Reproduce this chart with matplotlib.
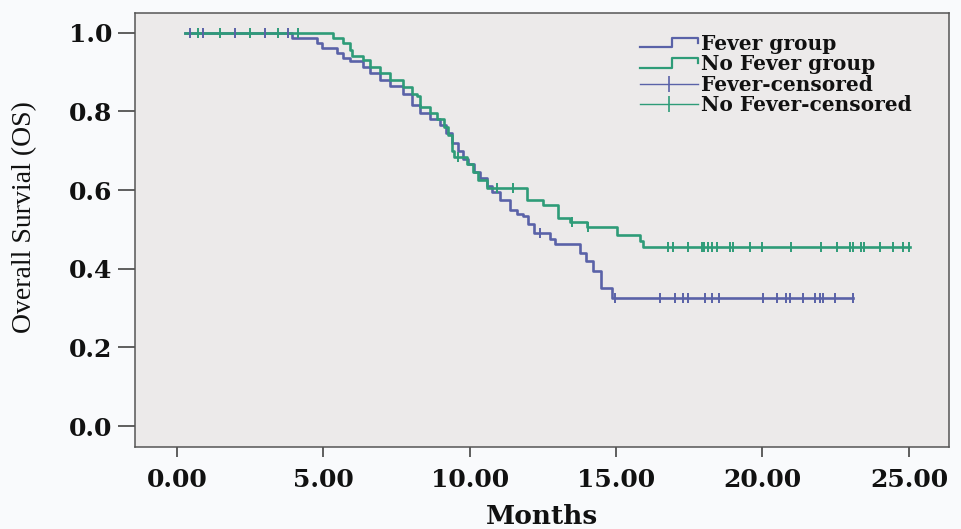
import numpy as np
import matplotlib
matplotlib.use("Agg")
import matplotlib.pyplot as plt
from matplotlib.lines import Line2D
from matplotlib.legend_handler import HandlerBase

# ---------------- data ----------------
fever_times = [0.27, 3.93, 4.78, 4.95, 5.46, 5.67, 5.91, 6.35, 6.59, 6.93, 7.27, 7.72,
               8.03, 8.30, 8.64, 8.98, 9.20, 9.40, 9.60, 9.77, 9.94, 10.14, 10.35,
               10.59, 10.76, 11.03, 11.37, 11.60, 11.82, 12.00, 12.20, 12.74, 12.90,
               13.76, 13.97, 14.20, 14.50, 14.85]
fever_surv = [1.0, 0.987, 0.974, 0.961, 0.948, 0.936, 0.927, 0.914, 0.897, 0.880, 0.864,
              0.843, 0.817, 0.797, 0.78, 0.765, 0.745, 0.72, 0.70, 0.68, 0.665, 0.645,
              0.63, 0.61, 0.595, 0.575, 0.55, 0.54, 0.533, 0.515, 0.492, 0.475, 0.462,
              0.44, 0.42, 0.395, 0.35, 0.325]
fever_end = 23.1
fever_censor = [0.44, 0.9, 1.98, 3.01, 3.8, 12.4, 14.96, 16.5, 17.0, 17.3, 17.46, 18.03,
                18.26, 18.52, 20.02, 20.48, 20.82, 20.93, 21.39, 21.79, 21.96, 22.07,
                22.47, 23.1]

nofever_times = [0.27, 5.33, 5.67, 5.91, 5.98, 6.35, 6.59, 6.93, 7.27, 7.72, 8.03, 8.20,
                 8.30, 8.64, 8.88, 9.12, 9.25, 9.40, 9.45, 9.90, 10.10, 10.30, 10.60,
                 11.95, 12.50, 13.00, 13.42, 14.00, 15.03, 15.80, 15.93]
nofever_surv = [1.0, 0.987, 0.974, 0.955, 0.94, 0.93, 0.914, 0.898, 0.88, 0.863, 0.845,
                0.838, 0.812, 0.795, 0.78, 0.76, 0.74, 0.70, 0.683, 0.665, 0.645, 0.625,
                0.604, 0.576, 0.563, 0.53, 0.518, 0.505, 0.487, 0.47, 0.456]
nofever_end = 25.03
nofever_censor = [0.73, 1.47, 2.49, 3.46, 4.14, 9.6, 10.95, 11.47, 13.5, 14.05, 16.78,
                  16.95, 17.46, 17.92, 18.0, 18.15, 18.26, 18.43, 18.89, 18.98, 19.57,
                  19.97, 20.99, 22.01, 22.53, 22.99, 23.08, 23.38, 23.46, 24.01, 24.47,
                  24.81, 25.0]

x_ticks = [0, 5, 10, 15, 20, 25]
x_ticklabels = ["0.00", "5.00", "10.00", "15.00", "20.00", "25.00"]
y_ticks = [0.0, 0.2, 0.4, 0.6, 0.8, 1.0]
y_ticklabels = ["0.0", "0.2", "0.4", "0.6", "0.8", "1.0"]
labels = ["Fever group", "No Fever group", "Fever-censored", "No Fever-censored"]

# ---------------- style ----------------
BLUE = "#5A62A8"
GREEN = "#2E9C78"
LW = 1.9

fig = plt.figure(figsize=(9.62, 5.29), dpi=100, facecolor="#F9FAFC")
ax = fig.add_axes([0.1403, 0.1550, 0.8462, 0.8204])
ax.set_facecolor("#ECEAEA")


def surv_at(times, survs, t):
    idx = np.searchsorted(np.asarray(times), t, side="right") - 1
    return np.asarray(survs)[np.clip(idx, 0, len(survs) - 1)]


def draw_group(times, survs, end, censor, color):
    xs = list(times) + [end]
    ys = list(survs) + [survs[-1]]
    ln, = ax.step(xs, ys, where="post", color=color, lw=LW, zorder=3)
    cy = surv_at(times, survs, np.asarray(censor))
    ax.plot(censor, cy, ls="none", marker="|", ms=7, mew=1.4, color=color, zorder=4)
    return ln


l1 = draw_group(fever_times, fever_surv, fever_end, fever_censor, BLUE)
l2 = draw_group(nofever_times, nofever_surv, nofever_end, nofever_censor, GREEN)

ax.set_xlim(-1.43, 26.37)
ax.set_ylim(-0.053, 1.05)

tick_font = dict(family="DejaVu Serif", weight="bold", size=18)
ax.set_xticks(x_ticks)
ax.set_xticklabels(x_ticklabels, fontdict=tick_font)
ax.set_yticks(y_ticks)
ax.set_yticklabels(y_ticklabels, fontdict=tick_font)
ax.tick_params(axis="both", direction="out", width=1.2, color="#444444",
               labelcolor="#111111")
ax.tick_params(axis="y", length=12, pad=4)
ax.tick_params(axis="x", length=7, pad=8)
for s in ax.spines.values():
    s.set_color("#555555")
    s.set_linewidth(1.1)

ax.set_xlabel("Months", family="DejaVu Serif", weight="bold", size=19, color="#111111")
ax.xaxis.set_label_coords(0.5, -0.132)
ax.set_ylabel("Overall Survial (OS)", family="Liberation Serif", size=20, color="#111111")
ax.yaxis.set_label_coords(-0.12, 0.53)


class HandlerStep(HandlerBase):
    def create_artists(self, legend, orig_handle, xdescent, ydescent, width, height,
                       fontsize, trans):
        x0, y0 = -xdescent, -ydescent
        xs = [x0, x0 + 0.55 * width, x0 + 0.55 * width, x0 + width, x0 + width]
        ys = [y0 + 0.2 * height, y0 + 0.2 * height, y0 + 0.85 * height,
              y0 + 0.85 * height, y0 + 0.5 * height]
        line = Line2D(xs, ys, color=orig_handle.get_color(), lw=1.6)
        line.set_transform(trans)
        return [line]


h3 = Line2D([], [], color=BLUE, lw=1.0, marker="|", ms=12, mew=1.2)
h4 = Line2D([], [], color=GREEN, lw=1.0, marker="|", ms=12, mew=1.2)
leg = ax.legend([l1, l2, h3, h4], labels, loc="upper left",
                bbox_to_anchor=(630 / 962, 1 - 24 / 529), bbox_transform=fig.transFigure,
                frameon=False, handlelength=2.9, handletextpad=0.15, labelspacing=0.02,
                borderpad=0.0, numpoints=1,
                prop=dict(family="DejaVu Serif", weight="bold", size=14.5),
                handler_map={l1: HandlerStep(), l2: HandlerStep()})
for t in leg.get_texts():
    t.set_color("#111111")

fig.savefig("out.png", dpi=100, facecolor=fig.get_facecolor())
